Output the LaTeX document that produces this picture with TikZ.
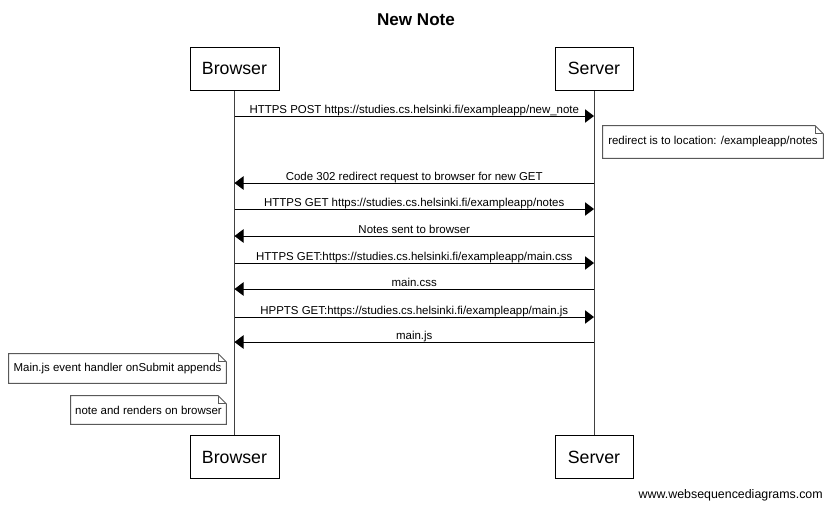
\documentclass[tikz,border=0pt]{standalone}
\usepackage{fontspec}
\setmainfont{Liberation Sans}
\usetikzlibrary{arrows.meta,calc}
\begin{document}
\begin{tikzpicture}[x=0.75pt,y=-0.75pt,
  actor/.style={draw=black,line width=0.75pt,minimum height=32.25pt,inner sep=0pt,font=\fontsize{13.3}{15}\selectfont},
  msg/.style={line width=0.75pt,-{Triangle[length=6.75pt,width=10pt]}},
  lbl/.style={font=\fontsize{8.6}{10}\selectfont,inner sep=0pt,anchor=base},
  life/.style={draw=black!75,line width=0.75pt},
  notebox/.style={font=\fontsize{8.6}{10}\selectfont,inner sep=0pt},
  notebdr/.style={draw=black!65,line width=0.75pt}]

\useasboundingbox (0,0) rectangle (831,508);

\node[font=\bfseries\fontsize{12.8}{15}\selectfont,anchor=base,inner sep=0pt] (title) at (416,25) {New Note};

% actors
\node[actor,minimum width=66.75pt] (bt) at (234.5,68.5) {Browser};
\node[actor,minimum width=58.5pt] (st) at (594,68.5) {Server};
\node[actor,minimum width=66.75pt] (bb) at (234.5,457) {Browser};
\node[actor,minimum width=58.5pt] (sb) at (594,457) {Server};

% lifelines
\draw[life] (bt) -- (bb);
\draw[life] (st) -- (sb);

% message anchor points
\coordinate (b1) at (234.5,116); \coordinate (s1) at (594,116);
\coordinate (b2) at (234.5,183); \coordinate (s2) at (594,183);
\coordinate (b3) at (234.5,209); \coordinate (s3) at (594,209);
\coordinate (b4) at (234.5,236); \coordinate (s4) at (594,236);
\coordinate (b5) at (234.5,263); \coordinate (s5) at (594,263);
\coordinate (b6) at (234.5,289); \coordinate (s6) at (594,289);
\coordinate (b7) at (234.5,317); \coordinate (s7) at (594,317);
\coordinate (b8) at (234.5,342); \coordinate (s8) at (594,342);

\draw[msg] (b1) -- (s1) node[lbl,midway,yshift=2.25pt] (l1) {HTTPS POST https://studies.cs.helsinki.fi/exampleapp/new\_note};
\draw[msg] (s2) -- (b2) node[lbl,midway,yshift=2.25pt] (l2) {Code 302 redirect request to browser for new GET};
\draw[msg] (b3) -- (s3) node[lbl,midway,yshift=2.25pt] (l3) {HTTPS GET https://studies.cs.helsinki.fi/exampleapp/notes};
\draw[msg] (s4) -- (b4) node[lbl,midway,yshift=2.25pt] (l4) {Notes sent to browser};
\draw[msg] (b5) -- (s5) node[lbl,midway,yshift=2.25pt] (l5) {HTTPS GET:https://studies.cs.helsinki.fi/exampleapp/main.css};
\draw[msg] (s6) -- (b6) node[lbl,midway,yshift=2.25pt] (l6) {main.css};
\draw[msg] (b7) -- (s7) node[lbl,midway,yshift=2.25pt] (l7) {HPPTS GET:https://studies.cs.helsinki.fi/exampleapp/main.js};
\draw[msg] (s8) -- (b8) node[lbl,midway,yshift=2.25pt] (l8) {main.js};

% notes
\node[notebox,minimum width=165pt,minimum height=24pt] (n1) at (713,142) {redirect is to location: /exampleapp/notes};
\node[notebox,minimum width=162.75pt,minimum height=21.75pt] (n2) at (117.5,368.5) {Main.js event handler onSubmit appends};
\node[notebox,minimum width=116.25pt,minimum height=21pt] (n3) at (148.5,410) {note and renders on browser};
\foreach \n in {n1,n2,n3}{
  \draw[notebdr] (\n.south west) -- (\n.north west) -- ($(\n.north east)+(-8,0)$) -- ($(\n.north east)+(0,8)$) -- (\n.south east) -- cycle;
  \draw[notebdr] ($(\n.north east)+(-8,0)$) -- ($(\n.north east)+(-8,8)$) -- ($(\n.north east)+(0,8)$);
}

% footer
\node[font=\fontsize{9.3}{11}\selectfont,anchor=base east,inner sep=0pt] (foot) at (823,498) {www.websequencediagrams.com};
\end{tikzpicture}
\end{document}
